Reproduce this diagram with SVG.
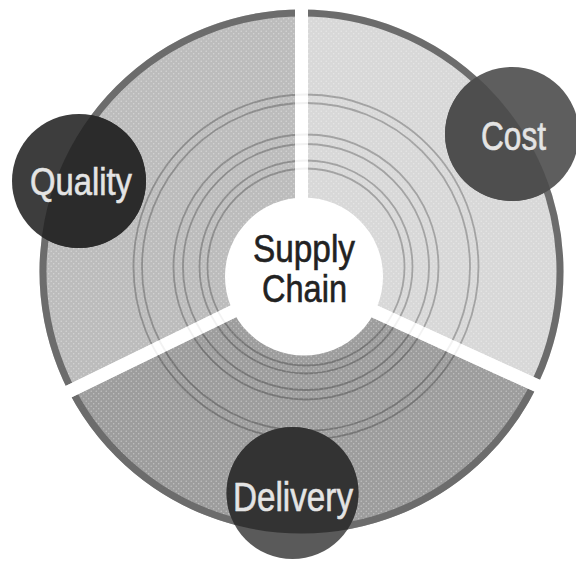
<svg xmlns="http://www.w3.org/2000/svg" width="576" height="562" viewBox="0 0 576 562">
  <defs>
    <clipPath id="outer"><circle cx="301.5" cy="271.5" r="262"/></clipPath>
    <pattern id="dots" width="5" height="5" patternUnits="userSpaceOnUse">
      <circle cx="1.2" cy="1.2" r="0.7" fill="#ffffff"/>
      <circle cx="3.7" cy="3.7" r="0.7" fill="#ffffff"/>
    </pattern>
    <style>
      .ringline { fill: none; stroke: #000; stroke-opacity: 0.25; stroke-width: 1.8; }
      .gap { stroke: #fff; stroke-width: 13; stroke-linecap: butt; }
      .lbl { font-family: "Liberation Sans", Arial, sans-serif; text-anchor: middle; stroke-width: 0.6; }
      .nodetxt { fill: #e4e4e4; stroke: #e4e4e4; }
      .center { fill: #222; stroke: #222; }
    </style>
  </defs>
  <rect width="576" height="562" fill="#ffffff"/>

  <g id="ring">
    <g clip-path="url(#outer)">
      <polygon points="301.5,278 301.5,-10 -10,-10 -10,430" fill="#bcbcbc"/>
      <polygon points="301.5,278 301.5,-10 586,-10 586,408" fill="#d8d8d8"/>
      <polygon points="301.5,278 -10,430 -10,572 586,572 586,408" fill="#9d9d9d"/>
      <rect width="576" height="562" fill="url(#dots)" opacity="0.4"/>
    </g>
    <circle cx="301.5" cy="271.5" r="258.5" fill="none" stroke="#6c6c6c" stroke-width="7"/>
    <g id="gaps-under">
      <line class="gap" x1="301.5" y1="278" x2="301.5" y2="-5"/>
      <line class="gap" x1="301.5" y1="278" x2="-10" y2="430"/>
      <line class="gap" x1="301.5" y1="278" x2="586" y2="408"/>
    </g>
    <g id="rings">
      <circle class="ringline" cx="306" cy="267" r="98.5"/>
      <circle class="ringline" cx="306" cy="267" r="106.5"/>
      <circle class="ringline" cx="306" cy="267" r="123"/>
      <circle class="ringline" cx="306" cy="267" r="132.5"/>
      <circle class="ringline" cx="306" cy="267" r="164"/>
      <circle class="ringline" cx="306" cy="267" r="172.5"/>
    </g>
    <g id="gaps-over" opacity="0.8">
      <line class="gap" x1="301.5" y1="278" x2="301.5" y2="-5"/>
      <line class="gap" x1="301.5" y1="278" x2="-10" y2="430"/>
      <line class="gap" x1="301.5" y1="278" x2="586" y2="408"/>
    </g>
  </g>

  <g id="connectors"/>

  <g id="node-supply-chain">
    <circle cx="304" cy="276.5" r="79" fill="#ffffff"/>
    <text class="lbl center" x="304" y="262" font-size="38" textLength="102" lengthAdjust="spacingAndGlyphs">Supply</text>
    <text class="lbl center" x="304.5" y="302" font-size="38" textLength="85" lengthAdjust="spacingAndGlyphs">Chain</text>
  </g>

  <g id="node-quality">
    <circle cx="79" cy="181" r="67" fill="#3d3d3d"/>
    <circle cx="79" cy="181" r="67" fill="#2b2b2b" clip-path="url(#outer)"/>
    <text class="lbl nodetxt" x="81" y="195" font-size="39" textLength="102" lengthAdjust="spacingAndGlyphs">Quality</text>
  </g>

  <g id="node-cost">
    <circle cx="512" cy="134" r="67" fill="#5e5e5e"/>
    <circle cx="512" cy="134" r="67" fill="#4e4e4e" clip-path="url(#outer)"/>
    <text class="lbl nodetxt" x="513.5" y="150" font-size="40" textLength="65" lengthAdjust="spacingAndGlyphs">Cost</text>
  </g>

  <g id="node-delivery">
    <circle cx="292.5" cy="493" r="66" fill="#5a5a5a"/>
    <circle cx="292.5" cy="493" r="66" fill="#333333" clip-path="url(#outer)"/>
    <text class="lbl nodetxt" x="293" y="511" font-size="40" textLength="120" lengthAdjust="spacingAndGlyphs">Delivery</text>
  </g>
</svg>
